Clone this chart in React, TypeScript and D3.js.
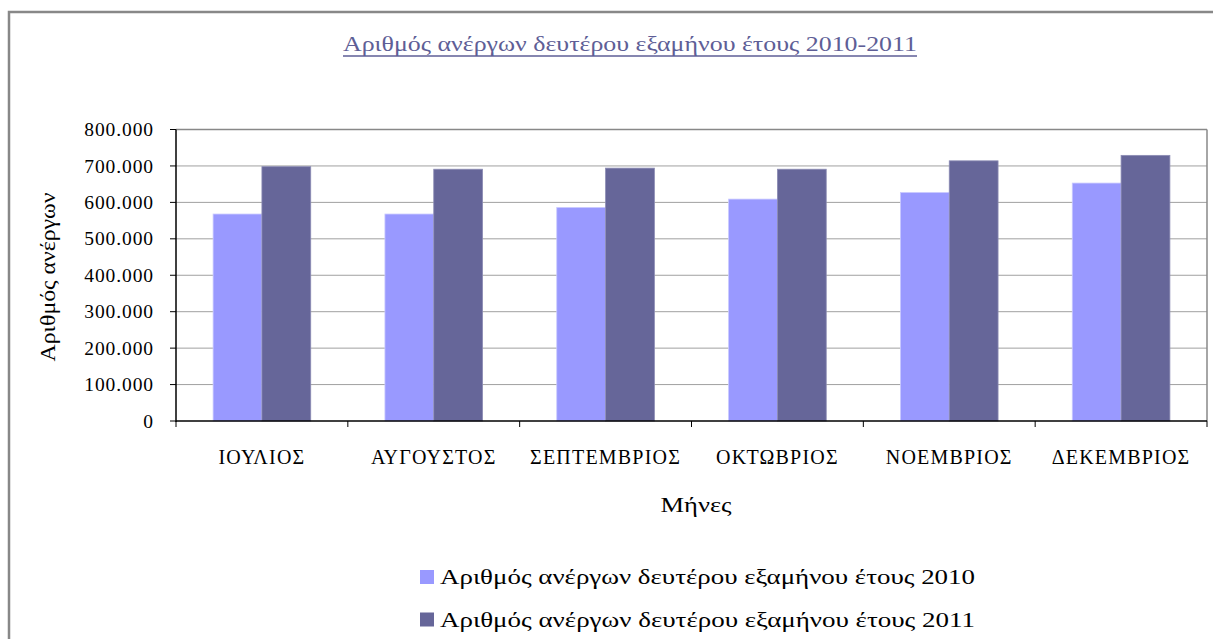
import React from 'react';
import * as d3 from 'd3';

// months of the second half of the year
const months = ['ΙΟΥΛΙΟΣ', 'ΑΥΓΟΥΣΤΟΣ', 'ΣΕΠΤΕΜΒΡΙΟΣ', 'ΟΚΤΩΒΡΙΟΣ', 'ΝΟΕΜΒΡΙΟΣ', 'ΔΕΚΕΜΒΡΙΟΣ'];

// unemployed persons per month
const unemployed2010 = [568000, 568000, 586000, 609000, 627000, 653000];
const unemployed2011 = [698000, 691000, 694000, 691000, 714000, 729000];

const seriesNames = [
    'Αριθμός ανέργων δευτέρου εξαμήνου έτους 2010',
    'Αριθμός ανέργων δευτέρου εξαμήνου έτους 2011',
];
const seriesColors = ['#9999ff', '#666699'];
const seriesStrokes = ['#c9c9ff', '#8c8cb4'];

const yTicks = [0, 100000, 200000, 300000, 400000, 500000, 600000, 700000, 800000];

const title = 'Αριθμός ανέργων δευτέρου εξαμήνου έτους 2010-2011';
const xTitle = 'Μήνες';
const yTitle = 'Αριθμός ανέργων';

const greek = d3.formatLocale({ decimal: ',', thousands: '.', grouping: [3], currency: ['', '€'] });
const fmt = greek.format(',');

const App = () => {
    const width = 1213;
    const height = 639;
    const plot = { left: 176, right: 1207, top: 129.5, bottom: 421 };
    const font = '"Liberation Serif", "Times New Roman", serif';

    const series = [unemployed2010, unemployed2011];

    // one band per month, two bars inside each band
    const xScale = d3.scaleBand<string>().domain(months).range([plot.left, plot.right]).padding(0);
    const xSub = d3.scaleBand<number>().domain([0, 1]).range([0, xScale.bandwidth()]).paddingInner(0).paddingOuter(0.76);
    const yScale = d3.scaleLinear().domain([0, 800000]).range([plot.bottom, plot.top]);

    const boundaries = months.map((m) => xScale(m) as number).concat([plot.right]);

    return (
        <svg width={width} height={height} style={{ position: 'absolute', left: 0, top: 0, background: '#fff' }}>
            {/* outer frame */}
            <rect x={9} y={12} width={1230} height={700} fill="#fff" stroke="#888" strokeWidth={2.5} />

            {/* title */}
            <text x={630} y={51} textAnchor="middle" fontFamily={font} fontSize={20.5} fill="#5e5e96" textLength={574} lengthAdjust="spacingAndGlyphs">
                {title}
            </text>
            <line x1={343} x2={917} y1={56} y2={56} stroke="#5e5e96" strokeWidth={1.5} />

            {/* gridlines and plot frame */}
            {yTicks.slice(1, -1).map((t) => (
                <line key={`g-${t}`} x1={plot.left} x2={plot.right} y1={yScale(t)} y2={yScale(t)} stroke="#a0a0a0" strokeWidth={1} />
            ))}
            <line x1={plot.left} x2={plot.right} y1={plot.top} y2={plot.top} stroke="#888" strokeWidth={1.5} />
            <line x1={plot.right} x2={plot.right} y1={plot.top} y2={plot.bottom} stroke="#888" strokeWidth={1.5} />

            {/* bars */}
            {series.map((values, si) => (
                <g key={`s-${si}`}>
                    {values.map((v, i) => (
                        <rect
                            key={`b-${si}-${i}`}
                            x={(xScale(months[i]) as number) + (xSub(si) as number)}
                            y={yScale(v)}
                            width={xSub.bandwidth()}
                            height={plot.bottom - yScale(v)}
                            fill={seriesColors[si]}
                            stroke={seriesStrokes[si]}
                            strokeWidth={0.8}
                        />
                    ))}
                </g>
            ))}

            {/* y axis */}
            <line x1={plot.left} x2={plot.left} y1={plot.top} y2={plot.bottom + 1} stroke="#000" strokeWidth={1.5} />
            {yTicks.map((t) => (
                <g key={`yt-${t}`}>
                    <line x1={plot.left - 6} x2={plot.left} y1={yScale(t)} y2={yScale(t)} stroke="#000" strokeWidth={1} />
                    <text x={154} y={yScale(t)} dy="0.34em" textAnchor="end" fontFamily={font} fontSize={19.5} letterSpacing={0.9} fill="#000">
                        {fmt(t)}
                    </text>
                </g>
            ))}

            {/* x axis */}
            <line x1={plot.left} x2={plot.right} y1={plot.bottom} y2={plot.bottom} stroke="#000" strokeWidth={1.5} />
            {boundaries.map((bx, i) => (
                <line key={`xt-${i}`} x1={bx} x2={bx} y1={plot.bottom} y2={plot.bottom + 6} stroke="#000" strokeWidth={1} />
            ))}
            {months.map((m) => (
                <text key={`xl-${m}`} x={(xScale(m) as number) + xScale.bandwidth() / 2} y={464} textAnchor="middle" fontFamily={font} fontSize={20} letterSpacing={1.2} fill="#000">
                    {m}
                </text>
            ))}

            {/* axis titles */}
            <text x={696} y={512} textAnchor="middle" fontFamily={font} fontSize={20} fill="#000" textLength={71} lengthAdjust="spacingAndGlyphs">
                {xTitle}
            </text>
            <text transform="translate(55, 277) rotate(-90)" textAnchor="middle" fontFamily={font} fontSize={20} fill="#000" textLength={169} lengthAdjust="spacingAndGlyphs">
                {yTitle}
            </text>

            {/* legend */}
            {seriesNames.map((name, i) => (
                <g key={`lg-${i}`} transform={`translate(420, ${570 + i * 42.5})`}>
                    <rect x={0} y={0} width={14} height={14} fill={seriesColors[i]} />
                    <text x={20} y={14} fontFamily={font} fontSize={20.5} fill="#000" textLength={535} lengthAdjust="spacingAndGlyphs">
                        {name}
                    </text>
                </g>
            ))}
        </svg>
    );
};

export default App;
